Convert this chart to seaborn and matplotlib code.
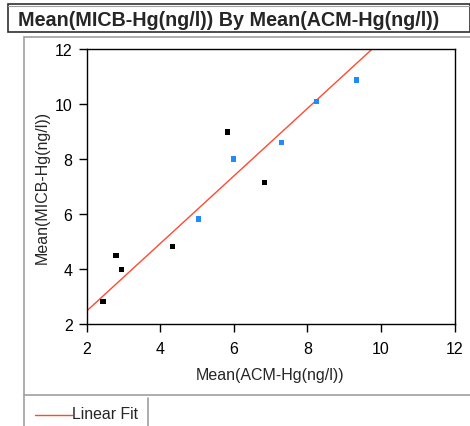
import matplotlib
matplotlib.use("Agg")
import matplotlib.pyplot as plt
from matplotlib.lines import Line2D
from matplotlib.patches import Rectangle
import pandas as pd
import seaborn as sns

# Group means of total mercury from the two methods
acm_hg = [2.45, 2.80, 2.96, 4.34, 5.84, 6.84, 5.05, 6.00, 7.29, 8.25, 9.33]
micb_hg = [2.81, 4.48, 3.99, 4.81, 8.98, 7.15, 5.82, 8.00, 8.59, 10.10, 10.87]
group = ["A", "A", "A", "A", "A", "A", "B", "B", "B", "B", "B"]

# Reported linear fit: MICB = intercept + slope * ACM
fit_intercept = 0.01
fit_slope = 1.228

x_ticks = [2, 4, 6, 8, 10, 12]
y_ticks = [2, 4, 6, 8, 10, 12]

df = pd.DataFrame({"acm": acm_hg, "micb": micb_hg, "group": group})

sns.set_style("white")
plt.rcParams["font.family"] = ["Liberation Sans", "DejaVu Sans"]

W, H = 470, 427
fig = plt.figure(figsize=(W / 100, H / 100), dpi=100)


def px(x, y):
    """Pixel position (from top-left) to figure fraction."""
    return x / W, 1 - y / H


def hline(x0, x1, y, **kw):
    (a, b), (c, _) = px(x0, y), px(x1, y)
    fig.add_artist(Line2D([a, c], [b, b], transform=fig.transFigure, **kw))


def vline(x, y0, y1, **kw):
    (a, b), (_, d) = px(x, y0), px(x, y1)
    fig.add_artist(Line2D([a, a], [b, d], transform=fig.transFigure, **kw))


# Title box
fig.add_artist(Rectangle(px(8, 33), (W - 8) / W, 28 / H, transform=fig.transFigure,
                         facecolor="white", edgecolor="#303030", linewidth=1.2))
hline(8, W, 7, color="#a0a0a0", linewidth=0.8)
fig.text(18 / W, 1 - 20 / H, "Mean(MICB-Hg(ng/l)) By Mean(ACM-Hg(ng/l))",
         fontsize=14.2, fontweight="bold", va="center", ha="left")

# Report outline and legend strip
vline(24, 38, H, color="#a0a0a0", linewidth=1.2)
hline(24, W, 38, color="#a0a0a0", linewidth=1.2)
hline(24, W, 396, color="#a0a0a0", linewidth=1.2)
vline(147.5, 399, H, color="#a0a0a0", linewidth=1.2)

fit_color = "#ff4a30"
hline(35, 72, 415.5, color=fit_color, linewidth=1.0)
fig.text(72 / W, 1 - 415 / H, "Linear Fit", fontsize=11.4, va="center", ha="left")

# Plot area
l, b = px(86.5, 325)
ax = fig.add_axes([l, b, (454.5 - 86.5) / W, 275 / H])
ax.set_xlim(2, 12)
ax.set_ylim(2, 12)

ax.axline((0, fit_intercept), slope=fit_slope, color=fit_color, linewidth=1.0)
sns.scatterplot(data=df, x="acm", y="micb", hue="group", ax=ax,
                palette={"A": "black", "B": "#1e8cff"}, marker="s", s=14,
                linewidth=0, legend=False, zorder=3)

ax.set_xlim(2, 12)
ax.set_ylim(2, 12)
ax.set_xticks(x_ticks)
ax.set_yticks(y_ticks)
ax.set_xlabel("Mean(ACM-Hg(ng/l))", fontsize=11.5, labelpad=8)
ax.set_ylabel("Mean(MICB-Hg(ng/l))", fontsize=11.5, labelpad=4)
ax.tick_params(axis="both", which="major", direction="out", length=6, width=1,
               labelsize=11.5, pad=4, colors="black", left=True, bottom=True)
ax.tick_params(axis="x", pad=6)
for s in ax.spines.values():
    s.set_color("black")
    s.set_linewidth(1.0)

fig.savefig("out.png", dpi=100)
